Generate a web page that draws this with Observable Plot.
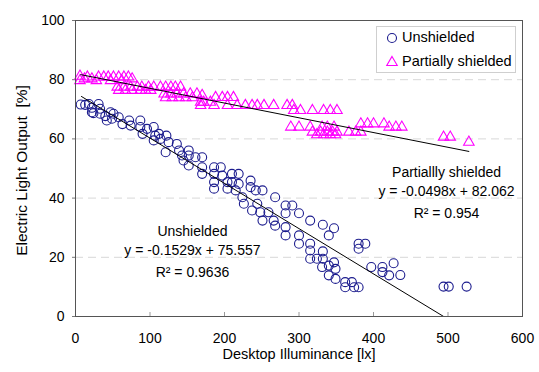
<!DOCTYPE html>
<html><head><meta charset="utf-8">
<script src="https://cdn.jsdelivr.net/npm/d3@7"></script>
<script src="https://cdn.jsdelivr.net/npm/@observablehq/plot@0.6"></script>
<style>
body{margin:0;background:#fff;font-family:"Liberation Sans",Arial,sans-serif;}
#wrap{position:relative;width:539px;height:372px;}
#legend{position:absolute;left:376px;top:26px;width:140px;height:47px;border:1px solid #cfcfcf;background:#fff;box-sizing:border-box;}
</style></head><body><div id="wrap"></div>
<script>
// Unshielded: desktop illuminance [lx] vs electric light output [%]
const unshieldedX = [7,13,18,22,22,24,31,33,33,40,42,47,49,51,58,63,72,74,87,87,90,96,105,107,105,112,114,122,121,125,136,139,143,
  145,152,152,152,161,170,170,170,186,195,186,186,186,197,204,204,210,219,210,219,215,224,226,235,235,242,251,237,244,248,259,251,266,268,268,
  282,291,282,300,315,332,347,340,282,282,300,300,315,315,315,324,332,332,331,340,347,349,340,349,362,362,371,374,380,380,389,380,397,412,412,421,427,436,494,501,525];
const unshieldedY = [71.6,71.5,71.8,70.5,69,68.7,71.8,70.2,68.5,67.7,66.2,69,66.8,68.5,67.3,65,66.2,64.5,66.2,64,61.7,63.4,64,61.1,59.5,61.7,60,61.1,55.5,58.9,58.3,56.1,54.4,
  52.7,56.1,54.4,51,53.8,53.8,50.4,48.2,50.4,50.4,48.2,45.4,43.2,47.6,45.4,43.2,48.2,48.2,45.4,44.8,42.6,40.3,38.1,45.9,43.7,42.6,42.6,35.8,38.1,35.2,35.2,32.4,32.4,40.3,30.7,
  37.5,37.5,34.9,34.9,32.4,31,29.8,27.4,30.2,27.4,27.4,24.6,24.6,22.3,19.5,19.5,22,19.5,16.7,17.2,18.3,16.1,13.9,12.7,11.6,9.9,11.6,9.9,9.9,24.6,24.6,22.9,16.7,16.7,15,13.9,18,14,10.1,10.1,10.1];

// Partially shielded
const shieldedX = [6,6,12,16,22,28,31,38,44,47,51,58,62,65,71,76,
  56,65,74,83,89,98,105,114,121,128,134,141,
  58,67,76,87,94,101,
  119,128,136,145,154,163,
  121,130,139,148,157,
  170,168,172,181,188,197,204,212,
  168,186,204,217,228,237,244,253,266,284,291,
  293,302,318,333,342,351,
  383,392,400,414,
  289,300,315,331,338,347,421,430,438,
  318,329,338,345,351,367,376,383,
  324,333,342,349,
  494,503,528];
const shieldedY = [81.2,79.7,80.3,80.9,80.3,79.7,80.9,80.9,80.9,79.7,80.9,80.9,79.7,80.9,80.9,80.3,
  77.5,77.5,77.5,77.5,77.5,77.5,77.5,77.5,77.5,77.5,77.5,77.5,
  76.4,76.4,76.4,76.4,76.4,76.4,
  75.2,75.2,75.2,75.2,75.2,75.2,
  73.9,73.9,73.9,73.9,73.9,
  74.7,72.4,72.4,72.4,74,74,74,74,
  71.3,71.3,71.3,71.3,71.3,71.3,71.3,71.3,71.3,71.3,71.3,
  69.6,69.6,69.6,69.6,69.6,69.6,
  65.1,65.1,65.1,65.1,
  64,64,64,64,64,64,64,64,64,
  62.3,62.3,62.3,62.3,62.3,62.3,62.3,62.3,
  61.4,61.4,61.4,61.4,
  60.6,60.6,58.9];

// Linear fits (from the chart's equations)
const fitNames = ["Unshielded", "Partially shielded"];
const fitSlopes = [-0.1529, -0.0498];
const fitIntercepts = [75.557, 82.062];
const fitXStart = [8, 7];
const fitXEnd = [494.2, 528];

// Annotation texts
const annTexts = ["Partiallly shielded", "y = -0.0498x + 82.062", "R\u00b2 = 0.954",
                  "Unshielded", "y = -0.1529x + 75.557", "R\u00b2 = 0.9636"];
const annX = [498, 498, 498, 157, 157, 157];
const annY = [48.6, 42.2, 34.8, 28.7, 22.3, 14.9];

const xTicks = [0, 100, 200, 300, 400, 500, 600];
const yTicks = [0, 20, 40, 60, 80, 100];
const gridTicks = [20, 40, 60, 80];

const unshielded = unshieldedX.map((x, i) => ({x, y: unshieldedY[i]}));
const shielded = shieldedX.map((x, i) => ({x, y: shieldedY[i]}));
const fits = fitNames.flatMap((name, i) => [fitXStart[i], fitXEnd[i]].map(x => ({name, x, y: fitIntercepts[i] + fitSlopes[i] * x})));
const anns = annTexts.map((t, i) => ({t, x: annX[i], y: annY[i]}));

const font = "Liberation Sans, Arial, sans-serif";
const chart = Plot.plot({
  width: 539, height: 372,
  marginLeft: 75, marginRight: 17, marginTop: 20, marginBottom: 56,
  style: {fontFamily: font, fontSize: "14px", color: "#000", background: "#fff"},
  x: {domain: [0, 600]},
  y: {domain: [0, 100]},
  marks: [
    Plot.gridY(gridTicks, {stroke: "#d8d8d8", strokeOpacity: 1, strokeDasharray: "8,5"}),
    Plot.tickX(xTicks.slice(1, -1), {x: d => d, insetTop: 292, stroke: "#999"}),
    Plot.axisY(yTicks, {tickSize: 3, tickPadding: 8, fontSize: 14, label: null, stroke: "#777"}),
    Plot.axisX(xTicks, {tickSize: 0, tickPadding: 17, fontSize: 14, label: null}),
    Plot.text(["Desktop Illuminance [lx]"], {frameAnchor: "bottom", dy: 42, fontSize: 14.5}),
    Plot.text(["Electric Light Output\u00a0 [%]"], {frameAnchor: "left", textAnchor: "middle", dx: -53, dy: 2, rotate: -90, fontSize: 15.5}),
    Plot.dot(shielded, {x: "x", y: "y", symbol: "triangle", r: 3.9, stroke: "#ff00ff", strokeWidth: 1.1, fill: "none"}),
    Plot.dot(unshielded, {x: "x", y: "y", r: 4.5, stroke: "#1c1c8e", strokeWidth: 1.1, fill: "none"}),
    Plot.line(fits, {x: "x", y: "y", z: "name", stroke: "#000", strokeWidth: 1}),
    Plot.text(anns, {x: "x", y: "y", text: "t", fontSize: 14, fill: "#000"}),
    Plot.frame({stroke: "#555"})
  ]
});
const wrap = document.getElementById("wrap");
wrap.appendChild(chart);

const legend = document.createElement("div");
legend.id = "legend";
legend.innerHTML = `<svg width="138" height="45" style="font-family:${font};font-size:14.5px">
  <circle cx="15" cy="11" r="4.5" fill="none" stroke="#1c1c8e" stroke-width="1.1"/>
  <text x="25" y="11" dominant-baseline="middle">Unshielded</text>
  <path d="${d3.symbol(d3.symbolTriangle, Math.PI*3.9*3.9)()}" transform="translate(15,35.5)" fill="none" stroke="#ff00ff" stroke-width="1.1"/>
  <text x="25" y="35.5" dominant-baseline="middle">Partially shielded</text>
</svg>`;
wrap.appendChild(legend);
</script>
</body></html>
